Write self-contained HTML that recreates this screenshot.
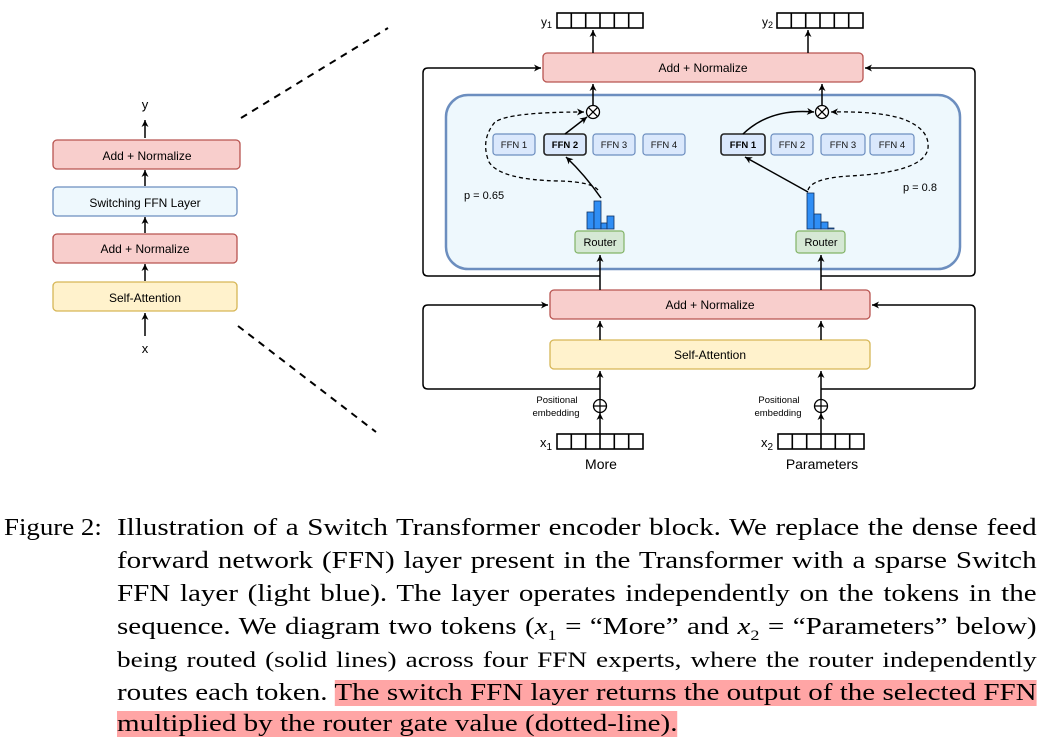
<!DOCTYPE html>
<html><head><meta charset="utf-8"><style>
html,body{margin:0;padding:0;background:#fff;width:1046px;height:750px;overflow:hidden;position:relative}
svg{position:absolute;left:0;top:0}
.cap{position:absolute;font-family:"Liberation Serif",serif;font-size:24px;line-height:30px;color:#000;white-space:nowrap;transform:scaleX(1.12);transform-origin:0 0}
.l{position:absolute;left:117px;width:760px;text-align:justify;text-align-last:justify;font-family:"Liberation Serif",serif;font-size:24px;white-space:nowrap;transform:scaleX(1.21);transform-origin:0 0;height:30px;line-height:30px}
.hl{background:#ffa5a5}
</style></head><body>
<svg width="1046" height="500" viewBox="0 0 1046 500" font-family="Liberation Sans, sans-serif">
<defs>
<marker id="a" markerWidth="8" markerHeight="8" refX="7" refY="4" orient="auto" markerUnits="userSpaceOnUse"><path d="M0,0.5 L7,4 L0,7.5 L2,4 z" fill="#000"/></marker>
</defs>
<g stroke-width="1.3">
<rect x="53" y="140" width="187" height="29" rx="4" fill="#f8cecc" stroke="#b85450"/>
<rect x="53" y="187" width="184" height="29" rx="4" fill="#eef8fd" stroke="#6c8ebf"/>
<rect x="53" y="234" width="184" height="29" rx="4" fill="#f8cecc" stroke="#b85450"/>
<rect x="53" y="282" width="184" height="29" rx="4" fill="#fff2cc" stroke="#d6b656"/>
</g>
<g font-size="12" text-anchor="middle" fill="#000">
<text x="147" y="160">Add + Normalize</text>
<text x="145" y="207">Switching FFN Layer</text>
<text x="145" y="253">Add + Normalize</text>
<text x="145" y="302">Self-Attention</text>
<text x="145" y="109" font-size="13">y</text>
<text x="145" y="353" font-size="13">x</text>
</g>
<g stroke="#000" stroke-width="1.5" marker-end="url(#a)">
<line x1="145" y1="138" x2="145" y2="120"/>
<line x1="145" y1="186" x2="145" y2="170"/>
<line x1="145" y1="233" x2="145" y2="217"/>
<line x1="145" y1="281" x2="145" y2="264"/>
<line x1="145" y1="336" x2="145" y2="313"/>
</g>
<g stroke="#000" stroke-width="2" stroke-dasharray="7,6">
<line x1="241" y1="118" x2="388" y2="28"/>
<line x1="238" y1="326" x2="376" y2="432"/>
</g>
<g fill="none" stroke="#000" stroke-width="1.5">
<path d="M600,276 H428 Q423,276 423,271 V73 Q423,68 428,68 H541" marker-end="url(#a)"/>
<path d="M821,276 H970 Q975,276 975,271 V73 Q975,68 970,68 H865" marker-end="url(#a)"/>
<path d="M600,389 H428 Q423,389 423,384 V310 Q423,305 428,305 H548" marker-end="url(#a)"/>
<path d="M821,389 H970 Q975,389 975,384 V310 Q975,305 970,305 H872" marker-end="url(#a)"/>
</g>
<rect x="446" y="95" width="514" height="174" rx="22" fill="#eef8fd" stroke="#6c8ebf" stroke-width="2.5"/>
<rect x="543" y="53" width="320" height="29" rx="4" fill="#f8cecc" stroke="#b85450" stroke-width="1.3"/>
<rect x="550" y="290" width="320" height="29" rx="4" fill="#f8cecc" stroke="#b85450" stroke-width="1.3"/>
<rect x="550" y="340" width="320" height="29" rx="4" fill="#fff2cc" stroke="#d6b656" stroke-width="1.3"/>
<g font-size="12" text-anchor="middle">
<text x="703" y="72">Add + Normalize</text>
<text x="710" y="309">Add + Normalize</text>
<text x="710" y="359">Self-Attention</text>
</g>
<g fill="#fff" stroke="#000" stroke-width="1.6">
<rect x="557" y="13" width="86" height="15"/><rect x="777" y="13" width="86" height="15"/>
<rect x="557" y="434" width="86" height="15"/><rect x="778" y="434" width="86" height="15"/>
</g>
<g stroke="#000" stroke-width="1.6">
<path d="M571.3,13v15M585.7,13v15M600,13v15M614.3,13v15M628.7,13v15M791.3,13v15M805.7,13v15M820,13v15M834.3,13v15M848.7,13v15M571.3,434v15M585.7,434v15M600,434v15M614.3,434v15M628.7,434v15M792.3,434v15M806.7,434v15M821,434v15M835.3,434v15M849.7,434v15"/>
</g>
<g font-size="12">
<text x="541" y="26">y<tspan font-size="9" dy="2">1</tspan></text>
<text x="762" y="26">y<tspan font-size="9" dy="2">2</tspan></text>
<text x="540" y="447" font-size="13">x<tspan font-size="10" dy="3">1</tspan></text>
<text x="761" y="447" font-size="13">x<tspan font-size="10" dy="3">2</tspan></text>
<text x="601" y="469" font-size="14" text-anchor="middle">More</text>
<text x="822" y="469" font-size="14" text-anchor="middle">Parameters</text>
<text x="557" y="403" font-size="9.5" text-anchor="middle">Positional</text>
<text x="556" y="416" font-size="9.5" text-anchor="middle">embedding</text>
<text x="779" y="403" font-size="9.5" text-anchor="middle">Positional</text>
<text x="778" y="416" font-size="9.5" text-anchor="middle">embedding</text>
</g>
<g stroke="#000" stroke-width="1.5" marker-end="url(#a)">
<line x1="593" y1="53" x2="593" y2="30"/>
<line x1="808" y1="53" x2="808" y2="30"/>
<line x1="593" y1="106" x2="593" y2="84"/>
<line x1="822" y1="106" x2="822" y2="84"/>
<line x1="600" y1="290" x2="600" y2="255"/>
<line x1="821" y1="290" x2="821" y2="255"/>
<line x1="600" y1="340" x2="600" y2="321"/>
<line x1="821" y1="340" x2="821" y2="321"/>
<line x1="600" y1="400" x2="600" y2="371"/>
<line x1="821" y1="400" x2="821" y2="371"/>
<line x1="600" y1="434" x2="600" y2="413"/>
<line x1="821" y1="434" x2="821" y2="413"/>
</g>
<g fill="#fff" stroke="#000" stroke-width="1.3">
<circle cx="600" cy="406" r="6.5"/><circle cx="821" cy="406" r="6.5"/>
<path d="M593.5,406h13M600,399.5v13M814.5,406h13M821,399.5v13" fill="none"/>
<circle cx="593" cy="112" r="6.5"/><circle cx="822" cy="112" r="6.5"/>
<path d="M588.4,107.4l9.2,9.2M597.6,107.4l-9.2,9.2M817.4,107.4l9.2,9.2M826.6,107.4l-9.2,9.2" fill="none"/>
</g>
<g fill="#dae8fc" stroke="#6c8ebf" stroke-width="1.2">
<rect x="493" y="134" width="42" height="21" rx="3"/>
<rect x="544" y="134" width="42" height="21" rx="3" stroke="#222" stroke-width="1.6"/>
<rect x="593" y="134" width="42" height="21" rx="3"/>
<rect x="643" y="134" width="42" height="21" rx="3"/>
<rect x="721" y="134" width="44" height="21" rx="3" stroke="#222" stroke-width="1.6"/>
<rect x="771" y="134" width="42" height="21" rx="3"/>
<rect x="821" y="134" width="44" height="21" rx="3"/>
<rect x="870" y="134" width="44" height="21" rx="3"/>
</g>
<g font-size="9.5" text-anchor="middle" fill="#111">
<text x="514" y="148">FFN 1</text>
<text x="565" y="148" font-weight="bold" fill="#000">FFN 2</text>
<text x="614" y="148">FFN 3</text>
<text x="664" y="148">FFN 4</text>
<text x="743" y="148" font-weight="bold" fill="#000">FFN 1</text>
<text x="792" y="148">FFN 2</text>
<text x="843" y="148">FFN 3</text>
<text x="892" y="148">FFN 4</text>
</g>
<rect x="575" y="231" width="49" height="22" rx="3" fill="#d5e8d4" stroke="#82b366" stroke-width="1.2"/>
<rect x="796" y="231" width="49" height="22" rx="3" fill="#d5e8d4" stroke="#82b366" stroke-width="1.2"/>
<text x="600" y="246" font-size="11" text-anchor="middle">Router</text>
<text x="821" y="246" font-size="11" text-anchor="middle">Router</text>
<g fill="#2f8ef5" stroke="#103060" stroke-width="0.8">
<rect x="587" y="212" width="7" height="17"/><rect x="594" y="201" width="7" height="28"/><rect x="601" y="223" width="6" height="6"/><rect x="607" y="216" width="7" height="13"/>
<rect x="807" y="193" width="7" height="36"/><rect x="814" y="214" width="7" height="15"/><rect x="821" y="222" width="7" height="7"/><rect x="828" y="228" width="6" height="1"/>
</g>
<g fill="none" stroke="#000" stroke-width="1.5" marker-end="url(#a)">
<path d="M601,198 Q585,175 566,157"/>
<path d="M565,134 L587,117"/>
<path d="M808,192 L745,157"/>
<path d="M743,134 Q770,108 814,112"/>
</g>
<g fill="none" stroke="#000" stroke-width="1.3" stroke-dasharray="4,3" marker-end="url(#a)">
<path d="M598,190 Q592,182 560,181 Q500,180 489,162 Q480,140 495,122 Q510,112 584,112"/>
<path d="M808,190 Q812,178 850,176 Q925,172 928,148 Q930,128 900,118 Q875,111 831,112"/>
</g>
<text x="464" y="199" font-size="11">p = 0.65</text>
<text x="903" y="191" font-size="11">p = 0.8</text>
</svg>
<div class="cap" style="left:4px;top:513px">Figure 2:</div>
<div class="l" style="top:513px">Illustration of a Switch Transformer encoder block. We replace the dense feed</div>
<div class="l" style="top:546px">forward network (FFN) layer present in the Transformer with a sparse Switch</div>
<div class="l" style="top:579px">FFN layer (light blue). The layer operates independently on the tokens in the</div>
<div class="l" style="top:612px">sequence. We diagram two tokens (<i>x</i><sub style="font-size:15px">1</sub> = “More” and <i>x</i><sub style="font-size:15px">2</sub> = “Parameters” below)</div>
<div class="l" style="top:645px;font-size:22.5px">being routed (solid lines) across four FFN experts, where the router independently</div>
<div class="l" style="top:678px">routes each token. <span class="hl">The switch FFN layer returns the output of the selected FFN</span></div>
<div class="l" style="top:709px;text-align-last:left"><span class="hl">multiplied by the router gate value (dotted-line).</span></div>
</body></html>
